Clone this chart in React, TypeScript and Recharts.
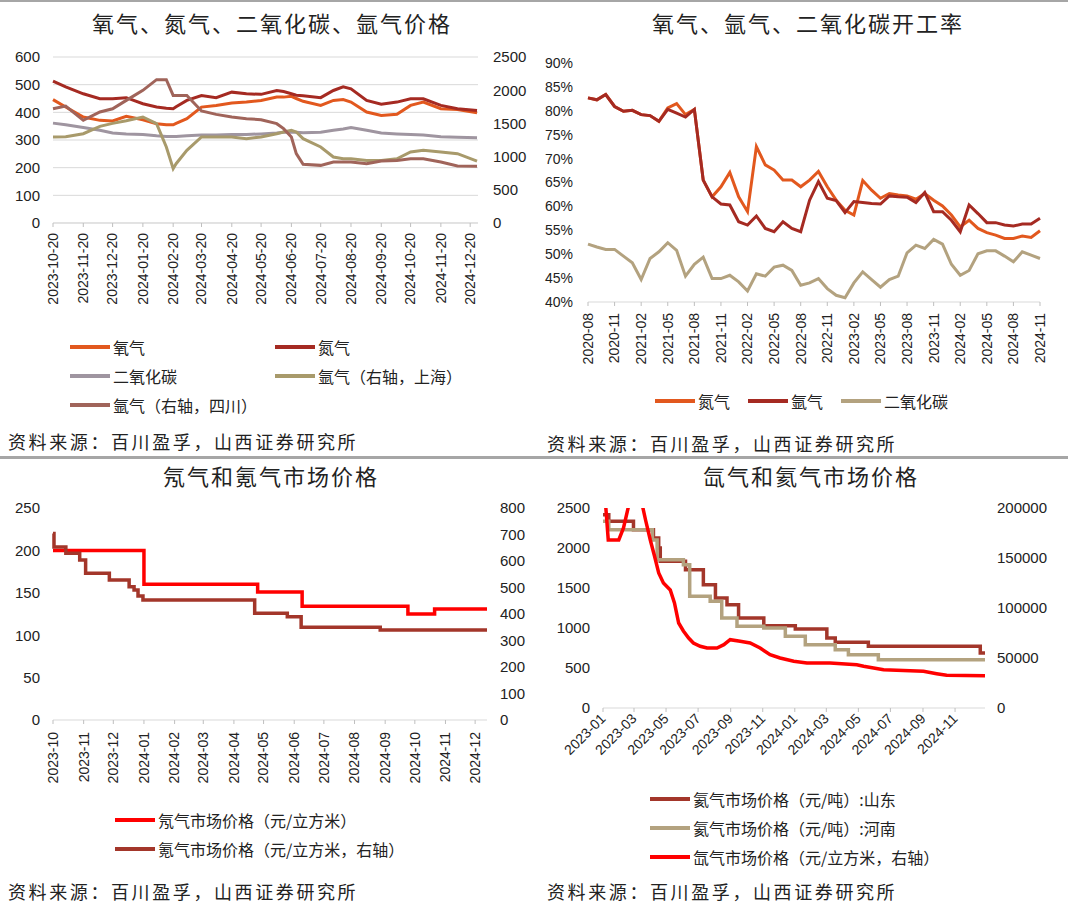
import React from "react";
import { CartesianGrid, Line, LineChart, XAxis, YAxis } from "recharts";

// ---- panel 1: 氧气、氮气、二氧化碳、氩气价格 ----
const gasDates = [
  "2023-10-20", "2023-11-02", "2023-11-20", "2023-12-07", "2023-12-20", "2024-01-03", "2024-01-20",
  "2024-02-03", "2024-02-13", "2024-02-20", "2024-02-23", "2024-03-05", "2024-03-20", "2024-04-04",
  "2024-04-20", "2024-05-05", "2024-05-20", "2024-06-05", "2024-06-12", "2024-06-20", "2024-06-25",
  "2024-07-02", "2024-07-20", "2024-08-02", "2024-08-12", "2024-08-20", "2024-09-05", "2024-09-20",
  "2024-10-06", "2024-10-20", "2024-11-02", "2024-11-20", "2024-12-07", "2024-12-27"
];
const oxygen = [446, 419, 383, 371, 369, 386, 373, 359, 355, 355, 360, 377, 419, 425, 434, 437, 443, 455, 455, 458, 450, 440, 425, 443, 446, 437, 401, 389, 393, 425, 437, 413, 410, 398];
const nitrogen = [513, 492, 467, 449, 449, 453, 431, 419, 415, 413, 420, 443, 461, 453, 473, 467, 465, 479, 475, 467, 462, 460, 453, 479, 492, 485, 443, 429, 437, 449, 449, 425, 413, 407];
const carbonDioxide = [361, 355, 345, 335, 325, 322, 320, 315, 313, 313, 313, 315, 318, 318, 320, 320, 322, 325, 328, 329, 328, 326, 328, 335, 340, 345, 335, 325, 322, 320, 318, 312, 310, 308];
const argonShanghai = [1295, 1300, 1345, 1455, 1500, 1540, 1597, 1496, 1145, 818, 893, 1095, 1295, 1295, 1295, 1270, 1295, 1345, 1370, 1396, 1370, 1270, 1145, 994, 968, 968, 943, 943, 968, 1070, 1095, 1070, 1044, 933];
const argonSichuan = [1720, 1760, 1546, 1672, 1720, 1847, 1998, 2159, 2159, 1922, 1922, 1922, 1687, 1636, 1596, 1571, 1556, 1496, 1421, 1295, 1044, 883, 868, 918, 918, 918, 893, 933, 943, 968, 968, 918, 860, 853];
const gasTicks = [
  "2023-10-20", "2023-11-20", "2023-12-20", "2024-01-20", "2024-02-20", "2024-03-20", "2024-04-20", "2024-05-20",
  "2024-06-20", "2024-07-20", "2024-08-20", "2024-09-20", "2024-10-20", "2024-11-20", "2024-12-20"
];

// ---- panel 2: 开工率 (%) ----
const rateMonths = [
  "2020-08", "2020-09", "2020-10", "2020-11", "2020-12", "2021-01", "2021-02", "2021-03", "2021-04", "2021-05",
  "2021-06", "2021-07", "2021-08", "2021-09", "2021-10", "2021-11", "2021-12", "2022-01", "2022-02", "2022-03",
  "2022-04", "2022-05", "2022-06", "2022-07", "2022-08", "2022-09", "2022-10", "2022-11", "2022-12", "2023-01",
  "2023-02", "2023-03", "2023-04", "2023-05", "2023-06", "2023-07", "2023-08", "2023-09", "2023-10", "2023-11",
  "2023-12", "2024-01", "2024-02", "2024-03", "2024-04", "2024-05", "2024-06", "2024-07", "2024-08", "2024-09",
  "2024-10", "2024-11"
];
const rateNitrogen = [82.7, 82.3, 83.4, 80.9, 79.9, 80.1, 79.2, 79.0, 77.8, 80.6, 81.5, 79.2, 80.3, 65.5, 62.0, 64.1, 67.1, 62.0, 58.9, 72.5, 68.7, 67.6, 65.5, 65.5, 64.1, 65.5, 67.3, 64.1, 61.3, 59.2, 58.2, 65.4, 63.4, 61.7, 62.7, 62.4, 62.2, 61.5, 62.7, 61.3, 60.1, 58.2, 55.7, 57.1, 55.4, 54.5, 54.0, 53.3, 53.3, 53.8, 53.5, 54.9];
const rateArgon = [82.7, 82.3, 83.4, 80.9, 79.9, 80.1, 79.2, 79.0, 77.8, 80.3, 79.5, 78.7, 80.3, 65.5, 62.0, 60.5, 60.3, 56.8, 56.1, 58.0, 55.4, 54.7, 56.8, 55.4, 54.7, 61.3, 65.2, 61.7, 61.2, 58.7, 61.0, 60.8, 60.6, 60.5, 62.2, 62.0, 61.9, 60.8, 62.9, 58.9, 58.9, 57.1, 54.7, 60.3, 58.5, 56.6, 56.6, 56.1, 55.9, 56.3, 56.3, 57.5];
const rateCo2 = [52.1, 51.5, 51.0, 51.0, 49.6, 48.2, 44.7, 49.1, 50.5, 52.4, 50.8, 45.4, 47.9, 49.4, 44.9, 44.9, 45.6, 44.2, 42.3, 45.9, 45.4, 47.3, 47.7, 46.6, 43.5, 44.0, 44.9, 42.8, 41.4, 40.9, 44.0, 46.3, 44.7, 43.1, 44.7, 45.4, 50.3, 51.9, 51.2, 53.1, 52.1, 47.9, 45.6, 46.6, 50.1, 50.7, 50.7, 49.6, 48.4, 50.5, 49.8, 49.1];

// ---- panel 3: 氖气 / 氪气 ----
const neonDates = ["2023-10-01", "2024-01-01", "2024-04-25", "2024-06-09", "2024-09-24", "2024-10-21", "2024-12-13"];
const neonPrice = [200, 160, 151, 134, 125, 131, 131];
const kryptonDates = [
  "2023-10-01", "2023-10-02", "2023-10-14", "2023-10-28", "2023-11-03", "2023-11-27", "2023-12-17", "2023-12-22",
  "2023-12-26", "2023-12-31", "2024-04-22", "2024-05-25", "2024-06-08", "2024-08-27", "2024-12-13"
];
const kryptonPrice = [704, 653, 629, 604, 554, 528, 503, 491, 468, 453, 403, 390, 350, 340, 340];
const monthTicks = [
  "2023-10", "2023-11", "2023-12", "2024-01", "2024-02", "2024-03", "2024-04", "2024-05",
  "2024-06", "2024-07", "2024-08", "2024-09", "2024-10", "2024-11", "2024-12"
];

// ---- panel 4: 氙气 / 氦气 ----
const shandongDates = [
  "2023-01-01", "2023-01-12", "2023-02-28", "2023-04-07", "2023-04-17", "2023-04-20", "2023-06-07", "2023-07-11",
  "2023-08-03", "2023-08-25", "2023-09-16", "2023-11-03", "2024-01-02", "2024-03-02", "2024-03-18", "2024-05-20",
  "2024-12-19", "2024-12-28"
];
const shandongPrice = [2417, 2333, 2229, 2125, 2000, 1833, 1729, 1542, 1375, 1292, 1125, 1029, 988, 875, 821, 771, 688, 688];
const henanDates = [
  "2023-01-01", "2023-01-12", "2023-04-05", "2023-04-14", "2023-06-03", "2023-06-15", "2023-07-24", "2023-08-15",
  "2023-09-13", "2023-11-03", "2023-12-14", "2024-01-21", "2024-03-18", "2024-04-12", "2024-06-08", "2024-12-28"
];
const henanPrice = [2333, 2229, 2100, 1854, 1792, 1396, 1333, 1125, 1021, 1000, 896, 792, 729, 667, 604, 604];
const xenonDates = [
  "2023-01-05", "2023-01-11", "2023-01-31", "2023-02-09", "2023-02-20", "2023-03-13", "2023-03-23", "2023-04-01",
  "2023-04-09", "2023-04-17", "2023-04-26", "2023-05-09", "2023-05-17", "2023-05-25", "2023-06-03", "2023-06-13",
  "2023-06-22", "2023-07-05", "2023-07-18", "2023-08-06", "2023-08-19", "2023-08-31", "2023-09-19", "2023-10-08",
  "2023-10-27", "2023-11-15", "2023-12-04", "2023-12-30", "2024-01-24", "2024-03-08", "2024-04-28", "2024-05-11",
  "2024-06-18", "2024-07-13", "2024-09-02", "2024-09-27", "2024-10-16", "2024-12-28"
];
const xenonPrice = [
  210000, 168000, 168000, 180000, 205000, 212000, 188000, 168000, 152000, 135000, 125000, 118000, 105000, 85000,
  77000, 70000, 65000, 61700, 60000, 60000, 63300, 68300, 66700, 65000, 60000, 53300, 50000, 46700, 45000, 45000,
  43300, 41700, 38300, 37700, 36700, 34300, 32700, 32300
];
const xenonTicks = [
  "2023-01", "2023-03", "2023-05", "2023-07", "2023-09", "2023-11", "2024-01", "2024-03", "2024-05", "2024-07",
  "2024-09", "2024-11"
];

const C = {
  orange: "#E2581E",
  darkRed: "#A52A22",
  grey: "#9F95A0",
  olive: "#A89A6B",
  mauve: "#A0645A",
  tan: "#B3A27F",
  red: "#FF0000",
  brown: "#A3362A"
};

const NUM = "'Liberation Sans', Arial, sans-serif";
const CJK = "'Noto Sans CJK SC', sans-serif";
const TXT = "#222";

function toDay(s: string) {
  const [y, m, d] = s.split("-").map(Number);
  return Date.UTC(y, m - 1, d || 1) / 86400000;
}

function labelOf(labels: string[]) {
  const map = new Map(labels.map((l) => [toDay(l), l]));
  return (v: number) => map.get(v) ?? "";
}

function RotTick(props: any) {
  const { x, y, payload, fmt, angle } = props;
  return (
    <text
      x={x}
      y={y}
      transform={`rotate(${angle}, ${x}, ${y})`}
      textAnchor="end"
      dy="0.35em"
      fontSize={14}
      fontFamily={NUM}
      fill={TXT}
    >
      {fmt(payload.value)}
    </text>
  );
}

const yTick = { fontSize: 15, fontFamily: NUM, fill: TXT };

const gasRows = gasDates.map((d, i) => ({
  d: toDay(d),
  o2: oxygen[i],
  n2: nitrogen[i],
  co2: carbonDioxide[i],
  arSh: argonShanghai[i],
  arSc: argonSichuan[i]
}));
const rateRows = rateMonths.map((m, i) => ({ m, n2: rateNitrogen[i], ar: rateArgon[i], co2: rateCo2[i] }));
const pairs = (dates: string[], vals: number[]) => dates.map((d, i) => ({ d: toDay(d), v: vals[i] }));

function Legend({ items, left, top, gap, cols = 1, colGap = 0 }: any) {
  return (
    <div style={{ position: "absolute", left, top }}>
      {items.map((it: any, i: number) => (
        <div
          key={it.name}
          style={{
            position: "absolute",
            left: (i % cols) * colGap,
            top: Math.floor(i / cols) * gap,
            display: "flex",
            alignItems: "center",
            whiteSpace: "nowrap",
            fontFamily: CJK,
            fontSize: 16,
            color: TXT
          }}
        >
          <span style={{ display: "inline-block", width: 40, height: 4, background: it.color, marginRight: 3 }} />
          {it.name}
        </div>
      ))}
    </div>
  );
}

function Title({ text, left, width, top }: any) {
  return (
    <div
      style={{
        position: "absolute",
        left,
        width,
        top,
        textAlign: "center",
        fontFamily: CJK,
        fontSize: 22,
        letterSpacing: 2,
        lineHeight: "28px",
        color: TXT
      }}
    >
      {text}
    </div>
  );
}

function Source({ left, top }: any) {
  return (
    <div
      style={{
        position: "absolute",
        left,
        top,
        fontFamily: CJK,
        fontSize: 18,
        letterSpacing: 2.6,
        lineHeight: "22px",
        color: TXT,
        whiteSpace: "nowrap"
      }}
    >
      资料来源：百川盈孚，山西证券研究所
    </div>
  );
}

export default function App() {
  const gasFmt = labelOf(gasTicks);
  const monthFmt = (v: number) => {
    const dt = new Date(v * 86400000);
    return `${dt.getUTCFullYear()}-${String(dt.getUTCMonth() + 1).padStart(2, "0")}`;
  };

  return (
    <div style={{ position: "absolute", left: 0, top: 0, width: 1068, height: 905, background: "#fff", overflow: "hidden" }}>
      <div style={{ position: "absolute", left: 0, top: 0, width: 1068, height: 2, background: "#A6A6A6" }} />
      <div style={{ position: "absolute", left: 0, top: 456, width: 1068, height: 3, background: "#A6A6A6" }} />

      <Title text="氧气、氮气、二氧化碳、氩气价格" left={0} width={544} top={8} />
      <Title text="氧气、氩气、二氧化碳开工率" left={530} width={556} top={8} />
      <Title text="氖气和氪气市场价格" left={0} width={542} top={461} />
      <Title text="氙气和氦气市场价格" left={530} width={562} top={461} />

      {/* panel 1 */}
      <div style={{ position: "absolute", left: 0, top: 45 }}>
        <LineChart width={535} height={285} data={gasRows} margin={{ top: 12, right: 0, bottom: 0, left: 0 }}>
          <CartesianGrid yAxisId="l" vertical={false} stroke="#D9D9D9" />
          <XAxis
            dataKey="d"
            type="number"
            domain={[toDay("2023-10-20"), toDay("2024-12-28")]}
            ticks={gasTicks.map(toDay)}
            interval={0}
            height={107}
            tickSize={4}
            tickMargin={6}
            axisLine={{ stroke: "#D9D9D9" }}
            tickLine={{ stroke: "#BFBFBF" }}
            tick={(p: any) => <RotTick {...p} fmt={gasFmt} angle={-90} />}
          />
          <YAxis yAxisId="l" domain={[0, 600]} ticks={[0, 100, 200, 300, 400, 500, 600]} width={53} axisLine={false} tickLine={false} tickMargin={7} tick={yTick} />
          <YAxis yAxisId="r" orientation="right" domain={[0, 2500]} ticks={[0, 500, 1000, 1500, 2000, 2500]} width={57} axisLine={false} tickLine={false} tickMargin={9} tick={yTick} />
          <Line yAxisId="l" dataKey="o2" stroke={C.orange} strokeWidth={3} dot={false} isAnimationActive={false} />
          <Line yAxisId="l" dataKey="n2" stroke={C.darkRed} strokeWidth={3} dot={false} isAnimationActive={false} />
          <Line yAxisId="l" dataKey="co2" stroke={C.grey} strokeWidth={3} dot={false} isAnimationActive={false} />
          <Line yAxisId="r" dataKey="arSh" stroke={C.olive} strokeWidth={3} dot={false} isAnimationActive={false} />
          <Line yAxisId="r" dataKey="arSc" stroke={C.mauve} strokeWidth={3} dot={false} isAnimationActive={false} />
        </LineChart>
      </div>
      <Legend
        left={70}
        top={335}
        gap={29}
        cols={2}
        colGap={205}
        items={[
          { name: "氧气", color: C.orange },
          { name: "氮气", color: C.darkRed },
          { name: "二氧化碳", color: C.grey },
          { name: "氩气（右轴，上海）", color: C.olive },
          { name: "氩气（右轴，四川）", color: C.mauve }
        ]}
      />
      <Source left={8} top={430} />

      {/* panel 2 */}
      <div style={{ position: "absolute", left: 530, top: 45 }}>
        <LineChart width={530} height={362} data={rateRows} margin={{ top: 18, right: 20, bottom: 0, left: 0 }}>
          <XAxis
            dataKey="m"
            interval={2}
            height={105}
            tickSize={4}
            tickMargin={7}
            axisLine={{ stroke: "#D9D9D9" }}
            tickLine={{ stroke: "#BFBFBF" }}
            tick={(p: any) => <RotTick {...p} fmt={(v: string) => v} angle={-90} />}
          />
          <YAxis
            domain={[40, 90]}
            ticks={[40, 45, 50, 55, 60, 65, 70, 75, 80, 85, 90]}
            tickFormatter={(v: number) => `${v}%`}
            width={58}
            axisLine={false}
            tickLine={false}
            tickMargin={9}
            tick={{ ...yTick, fontSize: 14 }}
          />
          <Line dataKey="n2" stroke={C.orange} strokeWidth={3} dot={false} isAnimationActive={false} />
          <Line dataKey="ar" stroke={C.darkRed} strokeWidth={3} dot={false} isAnimationActive={false} />
          <Line dataKey="co2" stroke={C.tan} strokeWidth={3} dot={false} isAnimationActive={false} />
        </LineChart>
      </div>
      <Legend
        left={655}
        top={389}
        gap={0}
        cols={3}
        colGap={93}
        items={[
          { name: "氮气", color: C.orange },
          { name: "氩气", color: C.darkRed },
          { name: "二氧化碳", color: C.tan }
        ]}
      />
      <Source left={547} top={432} />

      {/* panel 3 */}
      <div style={{ position: "absolute", left: 0, top: 490 }}>
        <LineChart width={540} height={310} margin={{ top: 18, right: 0, bottom: 0, left: 0 }}>
          <XAxis
            dataKey="d"
            type="number"
            domain={[toDay("2023-10-01"), toDay("2024-12-13")]}
            ticks={monthTicks.map(toDay)}
            interval={0}
            height={80}
            tickSize={4}
            tickMargin={8}
            axisLine={{ stroke: "#D9D9D9" }}
            tickLine={{ stroke: "#BFBFBF" }}
            tick={(p: any) => <RotTick {...p} fmt={monthFmt} angle={-90} />}
          />
          <YAxis yAxisId="l" domain={[0, 250]} ticks={[0, 50, 100, 150, 200, 250]} width={53} axisLine={false} tickLine={false} tickMargin={7} tick={yTick} />
          <YAxis yAxisId="r" orientation="right" domain={[0, 800]} ticks={[0, 100, 200, 300, 400, 500, 600, 700, 800]} width={53} axisLine={false} tickLine={false} tickMargin={7} tick={yTick} />
          <Line yAxisId="l" data={pairs(neonDates, neonPrice)} dataKey="v" type="stepAfter" stroke={C.red} strokeWidth={3.5} dot={false} isAnimationActive={false} />
          <Line yAxisId="r" data={pairs(kryptonDates, kryptonPrice)} dataKey="v" type="stepAfter" stroke={C.brown} strokeWidth={3.5} dot={false} isAnimationActive={false} />
        </LineChart>
      </div>
      <Legend
        left={115}
        top={808}
        gap={29}
        items={[
          { name: "氖气市场价格（元/立方米）", color: C.red },
          { name: "氪气市场价格（元/立方米，右轴）", color: C.brown }
        ]}
      />
      <Source left={8} top={880} />

      {/* panel 4 */}
      <div style={{ position: "absolute", left: 530, top: 490 }}>
        <LineChart width={538} height={290} margin={{ top: 18, right: 0, bottom: 0, left: 0 }}>
          <XAxis
            dataKey="d"
            type="number"
            domain={[toDay("2023-01-01"), toDay("2024-12-28")]}
            ticks={xenonTicks.map(toDay)}
            interval={0}
            height={72}
            tickSize={4}
            tickMargin={4}
            axisLine={{ stroke: "#D9D9D9" }}
            tickLine={{ stroke: "#BFBFBF" }}
            tick={(p: any) => <RotTick {...p} fmt={monthFmt} angle={-45} />}
          />
          <YAxis yAxisId="l" domain={[0, 2500]} ticks={[0, 500, 1000, 1500, 2000, 2500]} width={73} axisLine={false} tickLine={false} tickMargin={7} tick={yTick} />
          <YAxis yAxisId="r" orientation="right" domain={[0, 200000]} allowDataOverflow ticks={[0, 50000, 100000, 150000, 200000]} width={83} axisLine={false} tickLine={false} tickMargin={6} tick={yTick} />
          <Line yAxisId="l" data={pairs(shandongDates, shandongPrice)} dataKey="v" type="stepAfter" stroke={C.brown} strokeWidth={3.5} dot={false} isAnimationActive={false} />
          <Line yAxisId="l" data={pairs(henanDates, henanPrice)} dataKey="v" type="stepAfter" stroke={C.tan} strokeWidth={3.5} dot={false} isAnimationActive={false} />
          <Line yAxisId="r" data={pairs(xenonDates, xenonPrice)} dataKey="v" stroke={C.red} strokeWidth={3.5} dot={false} isAnimationActive={false} />
        </LineChart>
      </div>
      <Legend
        left={650}
        top={787}
        gap={29}
        items={[
          { name: "氦气市场价格（元/吨）:山东", color: C.brown },
          { name: "氦气市场价格（元/吨）:河南", color: C.tan },
          { name: "氙气市场价格（元/立方米，右轴）", color: C.red }
        ]}
      />
      <Source left={547} top={880} />
    </div>
  );
}
